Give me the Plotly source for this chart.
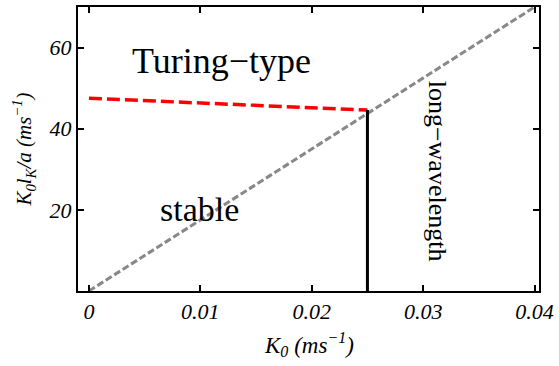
import plotly.graph_objects as go

# Data
diag_x = [0.0, 0.04]
diag_y = [0.0, 70.0]
turing_x = [0.0, 0.025]
turing_y = [47.5, 44.6]
long_x = [0.025, 0.025]
long_y = [0.0, 44.6]

x_tickvals = [0, 0.01, 0.02, 0.03, 0.04]
x_ticktext = ["0", "0.01", "0.02", "0.03", "0.04"]
y_tickvals = [20, 40, 60]
y_ticktext = ["20", "40", "60"]

serif = "Liberation Serif"

fig = go.Figure()
fig.add_trace(go.Scatter(x=diag_x, y=diag_y, mode="lines",
                         line=dict(color="#888888", width=3, dash="7px,3px"),
                         showlegend=False, hoverinfo="skip"))
fig.add_trace(go.Scatter(x=turing_x, y=turing_y, mode="lines",
                         line=dict(color="red", width=3.5, dash="13px,5px"),
                         showlegend=False, hoverinfo="skip"))
fig.add_trace(go.Scatter(x=long_x, y=long_y, mode="lines",
                         line=dict(color="black", width=3),
                         showlegend=False, hoverinfo="skip"))

fig.add_annotation(x=0.0119, y=56.7, text="Turing\u2212type", showarrow=False,
                   font=dict(family=serif, size=36, color="black"))
fig.add_annotation(x=0.0099, y=20.1, text="stable", showarrow=False,
                   font=dict(family=serif, size=34, color="black"))
fig.add_annotation(x=0.0313, y=29.5, text="long\u2212wavelength", showarrow=False,
                   textangle=90,
                   font=dict(family=serif, size=26, color="black"))
# x-axis title
fig.add_annotation(x=0.5, y=-0.19, xref="paper", yref="paper",
                   text="<i>K<sub>0</sub> (ms<sup>\u22121</sup>)</i>",
                   showarrow=False, xanchor="center", yanchor="middle",
                   font=dict(family=serif, size=23, color="black"))

axis_common = dict(
    showgrid=False, zeroline=False, showline=True, linecolor="black",
    linewidth=2, mirror="allticks", ticks="inside", ticklen=6,
    tickwidth=2, tickcolor="black",
    tickfont=dict(family=serif, size=22, color="black", style="italic"),
)

fig.update_xaxes(range=[-0.00098, 0.0404], tickvals=x_tickvals,
                 ticktext=x_ticktext, **axis_common)
fig.update_yaxes(range=[0, 70], tickvals=y_tickvals, ticktext=y_ticktext,
                 title=dict(text="<i>K<sub>0</sub>l<sub>K</sub>/a (ms<sup>\u22121</sup>)</i>",
                            font=dict(family=serif, size=21, color="black"),
                            standoff=12),
                 **axis_common)

fig.update_layout(
    width=559, height=366,
    margin=dict(l=78, r=17, t=5, b=75),
    plot_bgcolor="white", paper_bgcolor="white",
    font=dict(family=serif, color="black"),
)

fig.write_html("out.html")
